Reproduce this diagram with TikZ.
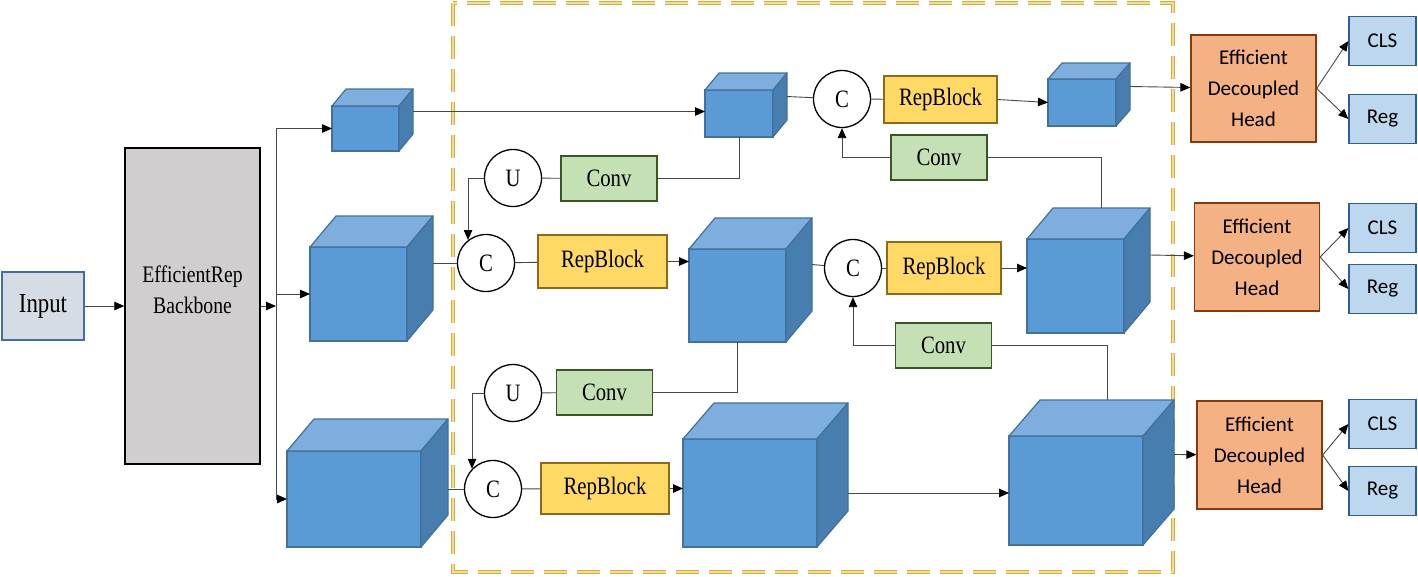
\documentclass[tikz,border=0pt]{standalone}
\usepackage{fontspec}
\setmainfont{Liberation Serif}
\newfontfamily\labelfont[FakeStretch=0.83]{Liberation Serif}
\newfontfamily\headfont{Carlito}
\usetikzlibrary{arrows.meta}
\definecolor{cubeblue}{HTML}{5B9BD5}
\definecolor{cubelight}{HTML}{7DAEDE}
\definecolor{cubedark}{HTML}{487DB0}
\definecolor{cubeedge}{HTML}{41719C}
\definecolor{inputfill}{HTML}{D6DCE5}
\definecolor{backbonefill}{HTML}{D0CECE}
\definecolor{convfill}{HTML}{C5E0B4}
\definecolor{convedge}{HTML}{385723}
\definecolor{repfill}{HTML}{FFD966}
\definecolor{repedge}{HTML}{8C6A1A}
\definecolor{headfill}{HTML}{F4B183}
\definecolor{headedge}{HTML}{843C0C}
\definecolor{outfill}{HTML}{BDD7EE}
\definecolor{outedge}{HTML}{2F5F8F}
\definecolor{neckgold}{HTML}{D9AC3F}
\definecolor{necklight}{HTML}{F3DC9A}

% feature map drawn as a box: name, left, top, width, height, depth x, depth y
\newcommand{\featcube}[7]{%
    \node[cubefront, minimum width=#4pt, minimum height=#5pt] (#1) at ({#2+#4/2},{#3+#5/2}) {};
    \filldraw[cubetop] (#1.north west) -- ++(#6,-#7) -- ([shift={(#6,-#7)}]#1.north east) -- (#1.north east) -- cycle;
    \filldraw[cubeside] (#1.north east) -- ++(#6,-#7) -- ([shift={(#6,-#7)}]#1.south east) -- (#1.south east) -- cycle;
    \path (#1.east) ++(#6,-#7) coordinate (#1r);
    \path (#1.north) ++(#6,-#7) coordinate (#1t);
}

\begin{document}
\begin{tikzpicture}[
    x=1pt, y=-1pt,
    conn/.style={draw=black!72, line width=0.9pt},
    connarrow/.style={conn, -{Triangle[length=10pt,width=8.5pt,color=black]}},
    cubefront/.style={rectangle, draw=cubeedge, fill=cubeblue, line width=1.2pt, inner sep=0pt, outer sep=0pt},
    cubetop/.style={draw=cubeedge, fill=cubelight, line width=1.2pt, line join=round},
    cubeside/.style={draw=cubeedge, fill=cubedark, line width=1.2pt, line join=round},
    opnode/.style={circle, draw=black, fill=white, line width=1.3pt, minimum size=57pt, inner sep=0pt, font=\labelfont\fontsize{25}{30}\selectfont},
    convbox/.style={rectangle, draw=convedge, fill=convfill, line width=1.3pt, minimum width=96pt, minimum height=45pt, inner sep=0pt, font=\labelfont\fontsize{25}{30}\selectfont},
    repbox/.style={rectangle, draw=repedge, fill=repfill, line width=1.3pt, minimum height=50pt, inner sep=0pt, font=\labelfont\fontsize{25}{30}\selectfont},
    headbox/.style={rectangle, draw=headedge, fill=headfill, line width=1.3pt, minimum width=125pt, minimum height=107pt, inner sep=0pt, align=center, font=\headfont\fontsize{21}{31}\selectfont},
    outbox/.style={rectangle, draw=outedge, fill=outfill, line width=1.3pt, minimum width=67pt, minimum height=49pt, inner sep=0pt, font=\headfont\fontsize{21}{25}\selectfont}
]
    \useasboundingbox (0,0) rectangle (1418,576);

    % === NECK REGION ===
    \draw[neckgold, line width=4pt, dash pattern=on 23pt off 10pt] (453,3) rectangle (1173,572);
    \draw[necklight, line width=1.3pt, dash pattern=on 23pt off 10pt] (453,3) rectangle (1173,572);

    % === INPUT AND BACKBONE ===
    \node[rectangle, draw=cubeedge, fill=inputfill, line width=1.3pt, minimum width=82pt, minimum height=68pt, font=\labelfont\fontsize{27.5}{30}\selectfont] (input) at (43,306) {Input};
    \node[rectangle, draw=black, fill=backbonefill, line width=1.5pt, minimum width=135pt, minimum height=316pt, inner sep=0pt, font=\labelfont\fontsize{23.7}{31}\selectfont] (backbone) at (192.5,306) {\raisebox{8pt}[0pt][0pt]{\begin{tabular}{@{}c@{}}EfficientRep\\Backbone\end{tabular}}};
    \coordinate (split) at (276,306);

    % === FEATURE MAPS ===
    \featcube{p3}{332}{106}{67}{45}{14}{17}
    \featcube{p4}{310}{247}{97}{94}{26}{31}
    \featcube{p5}{287}{451}{134}{96}{27}{32}
    \featcube{top1}{705}{90}{68}{47}{14}{17}
    \featcube{top2}{1048}{79}{68}{47}{14}{16}
    \featcube{mid1}{689}{249}{97}{93}{26}{31}
    \featcube{mid2}{1027}{239}{97}{94}{26}{31}
    \featcube{bot1}{683}{439}{134}{108}{31}{36}
    \featcube{bot2}{1009}{436}{134}{109}{31}{36}

    % === NECK BLOCKS ===
    \node[opnode] (up1) at (513,178) {U};
    \node[convbox] (conv1) at (609,178.5) {Conv};
    \node[opnode] (cat1) at (486,263) {C};
    \node[repbox, minimum width=129pt, minimum height=53pt] (rep1) at (602.5,261.5) {RepBlock};

    \node[opnode] (up2) at (513,393) {U};
    \node[convbox] (conv2) at (604.5,392.5) {Conv};
    \node[opnode] (cat2) at (493,489) {C};
    \node[repbox, minimum width=128pt, minimum height=51pt] (rep2) at (605,488.5) {RepBlock};

    \node[opnode] (cat3) at (842,99) {C};
    \node[repbox, minimum width=113pt, minimum height=47pt] (rep3) at (940.5,99.5) {RepBlock};
    \node[convbox] (conv3) at (939,157.5) {Conv};

    \node[opnode] (cat4) at (853,268) {C};
    \node[repbox, minimum width=114pt, minimum height=52pt] (rep4) at (944,268) {RepBlock};
    \node[convbox] (conv4) at (943.5,345.5) {Conv};

    % === HEADS ===
    \node[headbox] (head1) at (1253.5,88.5) {Efficient\\Decoupled\\Head};
    \node[headbox, minimum height=108pt] (head2) at (1257,257) {Efficient\\Decoupled\\Head};
    \node[headbox, minimum height=108pt] (head3) at (1259.5,455) {Efficient\\Decoupled\\Head};
    \node[outbox] (cls1) at (1382.5,41) {CLS};
    \node[outbox] (reg1) at (1382.5,119) {Reg};
    \node[outbox] (cls2) at (1382.5,228) {CLS};
    \node[outbox] (reg2) at (1382.5,289) {Reg};
    \node[outbox] (cls3) at (1382.5,424) {CLS};
    \node[outbox] (reg3) at (1382.5,491) {Reg};

    % === CONNECTIONS ===
    \draw[connarrow] (input) -- (backbone);
    \draw[connarrow] (backbone.east) -- (split);
    \draw[conn] (split |- p3.west) -- (split |- p5.west);
    \draw[connarrow] (split |- p3.west) -- (p3.west);
    \draw[connarrow] (split |- p4.west) -- (p4.west);
    \draw[connarrow] (split |- p5.west) -- (p5.west);

    % top-down path
    \draw[connarrow] (p3r) -- (p3r -| top1.west);
    \draw[conn] (top1.south) |- (conv1.east);
    \draw[conn] (conv1) -- (up1);
    \draw[connarrow] (up1.west) -| (cat1.128);
    \draw[conn] (p4r) -- (cat1);
    \draw[conn] (cat1) -- (rep1);
    \draw[connarrow] (rep1.east) -- (rep1 -| mid1.west);
    \draw[conn] (mid1.south) |- (conv2.east);
    \draw[conn] (conv2) -- (up2);
    \draw[connarrow] (up2.west) -| (cat2.136);
    \draw[conn] (cat2 -| p5r) -- (cat2);
    \draw[conn] (cat2) -- (rep2);
    \draw[connarrow] (rep2.east) -- (rep2 -| bot1.west);

    % bottom-up path
    \draw[connarrow] (bot1.east -| bot1r) -- (bot1.east -| bot2.west);
    \draw[conn] (bot2t) |- (conv4.east);
    \draw[connarrow] (conv4.west) -| (cat4.south);
    \draw[conn] (mid1r) -- (cat4);
    \draw[conn] (cat4) -- (rep4);
    \draw[connarrow] (rep4.east) -- (rep4 -| mid2.west);
    \draw[conn] (mid2t) |- (conv3.east);
    \draw[connarrow] (conv3.west) -| (cat3.south);
    \draw[conn] (top1r) -- (cat3);
    \draw[conn] (cat3) -- (rep3);
    \draw[connarrow] (rep3.east) -- (top2.west);

    % outputs to heads
    \draw[connarrow] (top2r) -- (head1);
    \draw[connarrow] (mid2r) -- (head2);
    \draw[connarrow] (bot2r) -- (head3);
    \draw[connarrow] (head1.east) -- (cls1.west);
    \draw[connarrow] (head1.east) -- (reg1.west);
    \draw[connarrow] (head2.east) -- (cls2.west);
    \draw[connarrow] (head2.east) -- (reg2.west);
    \draw[connarrow] (head3.east) -- (cls3.west);
    \draw[connarrow] (head3.east) -- (reg3.west);
\end{tikzpicture}
\end{document}
